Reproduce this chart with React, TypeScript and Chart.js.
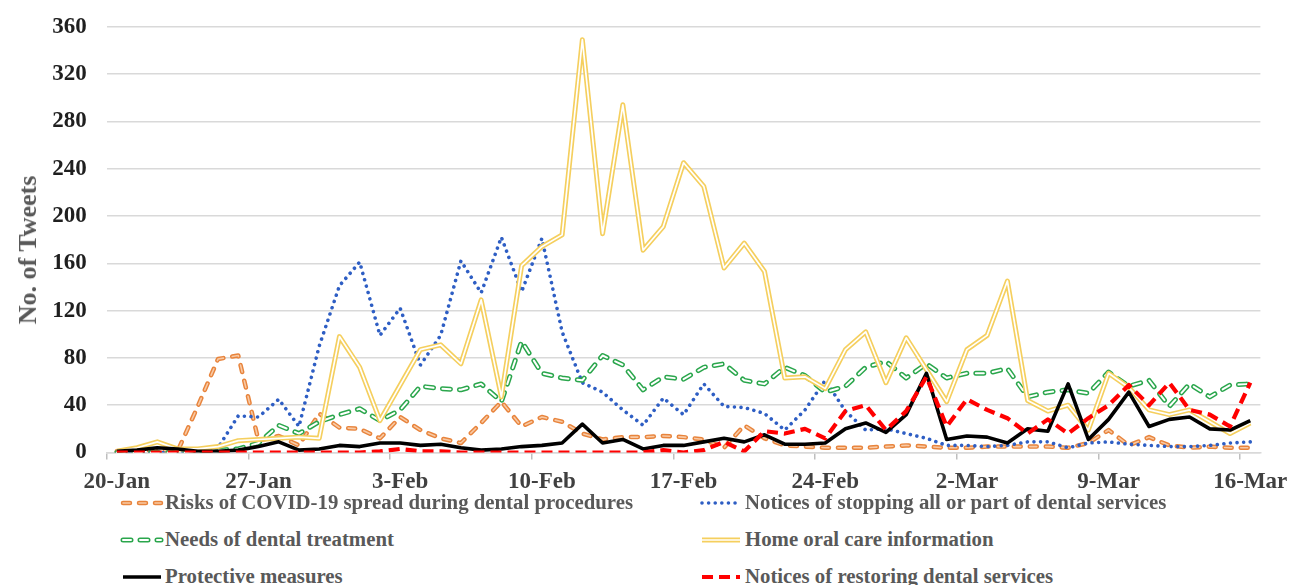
import React, { useEffect, useRef } from "react";
import { Chart, registerables } from "chart.js";

Chart.register(...registerables);

const dates = [
  "20-Jan", "21-Jan", "22-Jan", "23-Jan", "24-Jan", "25-Jan", "26-Jan", "27-Jan", "28-Jan", "29-Jan",
  "30-Jan", "31-Jan", "1-Feb", "2-Feb", "3-Feb", "4-Feb", "5-Feb", "6-Feb", "7-Feb", "8-Feb",
  "9-Feb", "10-Feb", "11-Feb", "12-Feb", "13-Feb", "14-Feb", "15-Feb", "16-Feb", "17-Feb", "18-Feb",
  "19-Feb", "20-Feb", "21-Feb", "22-Feb", "23-Feb", "24-Feb", "25-Feb", "26-Feb", "27-Feb", "28-Feb",
  "29-Feb", "1-Mar", "2-Mar", "3-Mar", "4-Mar", "5-Mar", "6-Mar", "7-Mar", "8-Mar", "9-Mar",
  "10-Mar", "11-Mar", "12-Mar", "13-Mar", "14-Mar", "15-Mar", "16-Mar",
];

const risks = [
  1, 2, 2, 1, 39, 79, 82, 10, 14, 6,
  33, 21, 20, 12, 30, 19, 12, 8, 25, 43,
  22, 30, 26, 16, 11, 13, 13, 14, 13, 11,
  4, 23, 12, 6, 5, 4, 4, 4, 5, 6,
  5, 4, 4, 5, 5, 5, 5, 4, 8, 19,
  6, 13, 6, 4, 5, 4, 4,
];

const stopping = [
  0, 0, 0, 0, 2, 4, 31, 30, 45, 22,
  90, 141, 161, 99, 122, 74, 99, 162, 135, 182,
  136, 181, 102, 59, 51, 36, 23, 46, 32, 58,
  39, 38, 33, 19, 36, 61, 35, 19, 20, 16,
  12, 6, 6, 5, 6, 9, 9, 4, 8, 9,
  7, 6, 5, 5, 6, 8, 9,
];

const needs = [
  0, 0, 0, 0, 1, 2, 3, 8, 23, 16,
  26, 32, 37, 27, 36, 56, 54, 53, 58, 43,
  94, 67, 63, 61, 82, 74, 53, 64, 62, 72,
  75, 61, 58, 72, 65, 51, 56, 72, 77, 63,
  75, 63, 67, 67, 71, 47, 51, 53, 50, 68,
  56, 61, 39, 58, 47, 57, 58,
];

const homeCare = [
  1, 4, 9, 3, 3, 5, 10, 11, 12, 13,
  12, 98, 72, 27, 57, 87, 91, 75, 129, 47,
  158, 174, 184, 349, 185, 294, 171, 191, 245, 225,
  156, 177, 153, 63, 64, 54, 87, 102, 59, 97,
  70, 43, 87, 99, 145, 44, 35, 40, 19, 67,
  55, 36, 32, 36, 26, 16, 25,
];

const protective = [
  1, 2, 4, 3, 1, 1, 2, 5, 9, 2,
  3, 6, 5, 8, 8, 6, 7, 4, 2, 3,
  5, 6, 8, 24, 8, 11, 3, 6, 6, 9,
  12, 9, 15, 7, 7, 8, 20, 25, 17, 32,
  67, 11, 14, 13, 8, 20, 18, 58, 11, 28,
  51, 22, 28, 30, 20, 19, 27,
];

const restoring = [
  0, 0, 0, 0, 0, 0, 0, 0, 0, 0,
  0, 0, 0, 1, 3, 1, 1, 0, 0, 0,
  0, 0, 0, 0, 0, 0, 0, 2, 0, 2,
  9, 1, 18, 16, 20, 12, 35, 40, 19, 35,
  64, 22, 45, 36, 29, 16, 28, 16, 29, 40,
  57, 40, 59, 36, 32, 22, 59,
];

const seriesNames = [
  "Risks of COVID-19 spread during dental procedures",
  "Notices of stopping all or part of dental services",
  "Needs of dental treatment",
  "Home oral care information",
  "Protective measures",
  "Notices of restoring dental services",
];

const yMin = 0;
const yMax = 360;
const yStep = 40;
const labelEvery = 7;

type LineStyle = {
  color: string;
  width: number;
  dash: number[];
  cap: "butt" | "round";
  inner?: { color: string; width: number };
};

const styles: LineStyle[] = [
  { color: "#E8843C", width: 4.5, dash: [7, 9], cap: "round", inner: { color: "#F8C9A4", width: 1.6 } },
  { color: "#2E5EC4", width: 3.6, dash: [0.01, 6.6], cap: "round" },
  { color: "#2AA64C", width: 5, dash: [8, 9], cap: "round", inner: { color: "#FFFFFF", width: 2 } },
  { color: "#F5CF5E", width: 5, dash: [], cap: "butt", inner: { color: "#FFFFFF", width: 1.7 } },
  { color: "#000000", width: 3.6, dash: [], cap: "butt" },
  { color: "#FF0000", width: 4.2, dash: [11, 6], cap: "butt" },
];

const seriesData = [risks, stopping, needs, homeCare, protective, restoring];

const innerStrokePlugin = {
  id: "innerStroke",
  afterDatasetDraw(chart: any, args: any) {
    const ds: any = chart.data.datasets[args.index];
    const inner = ds.innerStroke;
    if (!inner) return;
    const pts = args.meta.data;
    const ctx = chart.ctx;
    const a = chart.chartArea;
    ctx.save();
    ctx.beginPath();
    ctx.rect(a.left, a.top - 10, a.right - a.left, a.bottom - a.top + 20);
    ctx.clip();
    ctx.beginPath();
    pts.forEach((p: any, i: number) => {
      if (i === 0) ctx.moveTo(p.x, p.y);
      else ctx.lineTo(p.x, p.y);
    });
    ctx.lineWidth = inner.width;
    ctx.strokeStyle = inner.color;
    ctx.setLineDash(ds.borderDash || []);
    ctx.lineCap = ds.borderCapStyle || "butt";
    ctx.lineJoin = "round";
    ctx.stroke();
    ctx.restore();
  },
};

const FONT = "'Liberation Serif', 'Times New Roman', serif";

function Sample({ s }: { s: LineStyle }) {
  return (
    <svg width={44} height={14} style={{ display: "block" }}>
      <line x1={3} y1={7} x2={41} y2={7} stroke={s.color} strokeWidth={s.width}
        strokeDasharray={s.dash.length ? s.dash.join(" ") : undefined} strokeLinecap={s.cap} />
      {s.inner && (
        <line x1={3} y1={7} x2={41} y2={7} stroke={s.inner.color} strokeWidth={s.inner.width}
          strokeDasharray={s.dash.length ? s.dash.join(" ") : undefined} strokeLinecap={s.cap} />
      )}
    </svg>
  );
}

export default function App() {
  const canvasRef = useRef<HTMLCanvasElement | null>(null);

  useEffect(() => {
    document.body.style.margin = "0";
    const canvas = canvasRef.current;
    if (!canvas) return;
    const chart = new Chart(canvas, {
      type: "line",
      data: {
        labels: dates,
        datasets: seriesData.map((d, i) => ({
          label: seriesNames[i],
          data: d,
          borderColor: styles[i].color,
          backgroundColor: styles[i].color,
          borderWidth: styles[i].width,
          borderDash: styles[i].dash,
          borderCapStyle: styles[i].cap,
          borderJoinStyle: "round",
          pointRadius: 0,
          pointHoverRadius: 0,
          tension: 0,
          fill: false,
          order: seriesData.length - i,
          innerStroke: styles[i].inner,
        })) as any,
      },
      options: {
        animation: false,
        responsive: false,
        devicePixelRatio: 1,
        events: [],
        layout: { padding: { top: 26.7, right: 30.6, left: 0, bottom: 0 } },
        plugins: {
          legend: { display: false },
          tooltip: { enabled: false },
          title: { display: false },
        },
        scales: {
          x: {
            type: "category",
            offset: true,
            grid: {
              display: true,
              offset: true,
              drawOnChartArea: false,
              drawTicks: true,
              tickLength: 7,
              lineWidth: 1.5,
              color: (ctx: any) => (ctx.index % labelEvery === 0 ? "#BFBFBF" : "rgba(0,0,0,0)"),
            },
            border: { display: true, color: "#D9D9D9", width: 1.5 },
            ticks: {
              autoSkip: false,
              maxRotation: 0,
              minRotation: 0,
              padding: 9,
              color: "#404040",
              font: { family: FONT, size: 23, weight: "bold" },
              callback: (_v: any, idx: number) => (idx % labelEvery === 0 ? dates[idx] : ""),
            },
            afterFit: (scale: any) => {
              scale.height = 47.5;
              scale.paddingLeft = 0;
              scale.paddingRight = 0;
            },
          },
          y: {
            min: yMin,
            max: yMax,
            grid: {
              color: "#D9D9D9",
              lineWidth: 1.5,
              drawTicks: false,
            },
            border: { display: false },
            ticks: {
              stepSize: yStep,
              padding: 20,
              color: "#1F1F1F",
              font: { family: FONT, size: 23, weight: "bold" },
            },
            afterFit: (scale: any) => {
              scale.width = 106.7;
              scale.paddingTop = 0;
              scale.paddingBottom = 0;
            },
          },
        },
      },
      plugins: [innerStrokePlugin],
    });
    return () => chart.destroy();
  }, []);

  const rowsBaseline = [509.7, 546.3, 583];
  const colText = [165, 745];
  const colSample = [120, 699];

  return (
    <div style={{ position: "relative", width: 1291, height: 585, overflow: "hidden", background: "#fff" }}>
      <canvas ref={canvasRef} width={1291} height={500} style={{ position: "absolute", left: 0, top: 0 }} />
      <div
        style={{
          position: "absolute",
          left: 28,
          top: 250,
          transform: "translate(-50%, -50%) rotate(-90deg)",
          whiteSpace: "nowrap",
          fontFamily: FONT,
          fontWeight: "bold",
          fontSize: 26,
          lineHeight: "26px",
          color: "#595959",
        }}
      >
        No. of Tweets
      </div>
      {seriesNames.map((name, i) => {
        const row = Math.floor(i / 2);
        const col = i % 2;
        const baseline = rowsBaseline[row];
        return (
          <React.Fragment key={name}>
            <div style={{ position: "absolute", left: colSample[col], top: baseline - 6.5 - 7 }}>
              <Sample s={styles[i]} />
            </div>
            <div
              style={{
                position: "absolute",
                left: colText[col],
                top: baseline - 17.4,
                whiteSpace: "nowrap",
                fontFamily: FONT,
                fontWeight: "bold",
                fontSize: 20.8,
                lineHeight: "20.8px",
                color: "#595959",
              }}
            >
              {name}
            </div>
          </React.Fragment>
        );
      })}
    </div>
  );
}
